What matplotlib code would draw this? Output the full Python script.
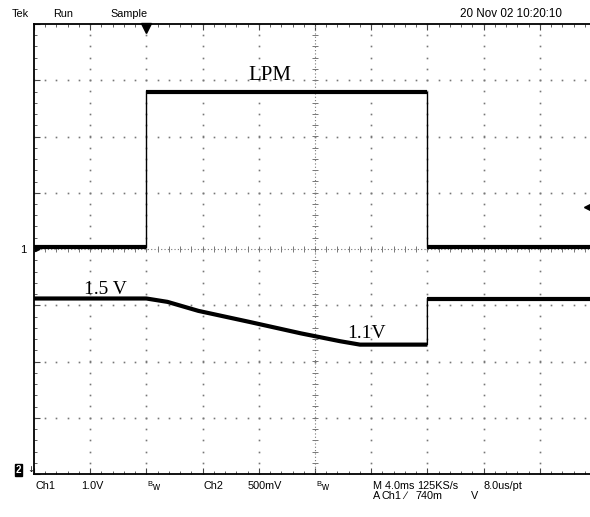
import numpy as np
import matplotlib
matplotlib.use('Agg')
import matplotlib.pyplot as plt
from matplotlib.ticker import MultipleLocator

# 波形データ (時間 ms, 電圧 V)
ch1_t = [-8.0, 0.0, 0.0, 20.0, 20.0, 32.0]
ch1_v = [0.04, 0.04, 2.80, 2.80, 0.04, 0.04]
ch2_t = [-8.0, 0.0, 1.5, 3.7, 7.4, 11.0, 13.8, 15.2, 20.0, 20.0, 32.0]
ch2_v = [1.50, 1.50, 1.47, 1.39, 1.29, 1.19, 1.12, 1.09, 1.09, 1.50, 1.50]

# スコープ設定
ch1_scale, ch1_pos = 1.0, 0.0      # V/div, div
ch2_scale, ch2_pos = 0.5, -3.88
time_div = 4.0                      # ms/div
t_left = -8.0
trig_level = 0.74

W, H = 590, 517
fig = plt.figure(figsize=(W / 100, H / 100), dpi=100)

def fx(x):
    return x / W

def fy(y):
    return 1 - y / H

ax = fig.add_axes([fx(34), fy(474), 562 / W, 450 / H])
ax.set_xlim(t_left, t_left + 10 * time_div)
ax.set_ylim(-4, 4)

# 目盛り
ax.xaxis.set_major_locator(MultipleLocator(time_div))
ax.xaxis.set_minor_locator(MultipleLocator(time_div / 5))
ax.yaxis.set_major_locator(MultipleLocator(1))
ax.yaxis.set_minor_locator(MultipleLocator(0.2))
ax.tick_params(which='both', direction='in', top=True, right=True,
               labelbottom=False, labelleft=False, color='#444')
ax.tick_params(which='major', length=4, width=0.8)
ax.tick_params(which='minor', length=2.5, width=0.6)
for s in ax.spines.values():
    s.set_linewidth(1.3)

# グリッド (点線)
ys = np.arange(-4, 4.01, 0.2)
xs = np.arange(t_left, t_left + 10 * time_div + 0.01, time_div / 5)
for k in range(1, 10):
    x = t_left + k * time_div
    if k == 5:
        continue
    ax.plot(np.full_like(ys, x), ys, ls='none', marker='s', ms=1.2, color='#777', mew=0)
for k in range(-3, 4):
    if k == 0:
        continue
    ax.plot(xs, np.full_like(xs, k), ls='none', marker='s', ms=1.2, color='#777', mew=0)

# 中心線
xc = t_left + 5 * time_div
ax.plot([xc, xc], [-4, 4], ls=(0, (1, 2)), lw=0.8, color='#777')
ax.plot(np.full_like(ys, xc), ys, ls='none', marker='_', ms=4, mew=0.7, color='#777')
ax.plot([xs[0], xs[-1]], [0, 0], ls=(0, (1, 2)), lw=0.8, color='#777')
ax.plot(xs, np.zeros_like(xs), ls='none', marker='|', ms=4, mew=0.7, color='#777')

# 波形: 縦の遷移は細線, それ以外は太線
def draw_trace(t, v, scale, pos):
    t = np.array(t)
    d = np.array(v) / scale + pos
    ax.plot(t, d, color='black', lw=1.0, zorder=5)
    start = 0
    for i in range(len(t) - 1):
        if t[i] == t[i + 1]:
            ax.plot(t[start:i + 1], d[start:i + 1], color='black', lw=3.0,
                    solid_joinstyle='round', solid_capstyle='butt', zorder=5)
            start = i + 1
    ax.plot(t[start:], d[start:], color='black', lw=3.0,
            solid_joinstyle='round', solid_capstyle='butt', zorder=5)

draw_trace(ch1_t, ch1_v, ch1_scale, ch1_pos)
draw_trace(ch2_t, ch2_v, ch2_scale, ch2_pos)

# トリガーマーカー
ax.plot(0, 3.93, marker='v', ms=7, color='black', clip_on=False, zorder=6)
ax.plot(31.4, trig_level / ch1_scale + ch1_pos, marker='<', ms=6, color='black',
        clip_on=False, zorder=6)

# 注釈 (セリフ体)
serif = 'Liberation Serif'
fig.text(fx(270), fy(75), 'LPM', family=serif, fontsize=15, ha='center', va='center')
fig.text(fx(105), fy(289), '1.5 V', family=serif, fontsize=14, ha='center', va='center')
fig.text(fx(367), fy(333), '1.1V', family=serif, fontsize=14, ha='center', va='center')

# スコープ表示テキスト
sans = 'Liberation Sans'
fs = 7.8
def label(x, y, s, **kw):
    kw.setdefault('fontsize', fs)
    fig.text(fx(x), fy(y), s, family=sans, va='center', **kw)

label(12, 14, 'Tek')
label(53, 14, 'Run')
label(110, 14, 'Sample')
label(460, 14, '20 Nov 02 10:20:10', fontsize=8.4)

# チャンネルマーカー
label(20, 250, '1', fontsize=8)
ax.plot(-7.8, 0.0, marker='>', ms=3, color='black', clip_on=False, zorder=6)
fig.text(fx(16), fy(470), '2', family=sans, fontsize=7, color='white', va='center',
         weight='bold', bbox=dict(boxstyle='square,pad=0.1', fc='black', ec='black'))
fig.text(fx(27), fy(470), '\u2193', family='DejaVu Sans', fontsize=6, va='center')

# 下部ステータス
label(35, 486, 'Ch1')
label(81, 486, '1.0V')
for bx in (147, 316):
    label(bx, 484, 'B', fontsize=5.5)
    label(bx + 5, 487, 'w', fontsize=7)
label(204, 486, 'Ch2')
label(248, 486, '500mV')
label(373, 486, 'M 4.0ms')
label(417, 486, '125KS/s')
label(483, 486, '8.0us/pt')
label(373, 496, 'A')
label(381, 496, 'Ch1')
label(404, 496, '\u2215')
label(415, 496, '740m')
label(471, 496, 'V')

fig.savefig('out.png', dpi=100)
